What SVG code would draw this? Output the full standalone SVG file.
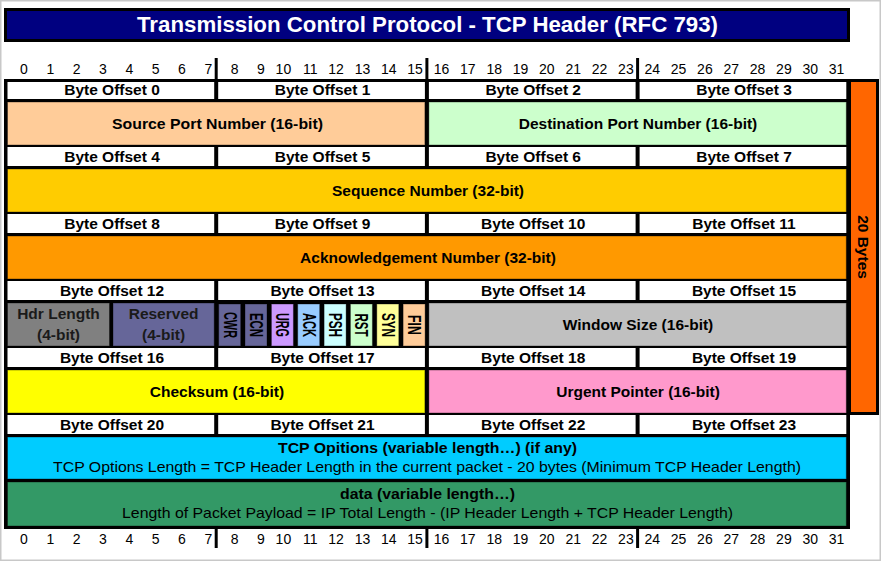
<svg xmlns="http://www.w3.org/2000/svg" width="881" height="561" viewBox="0 0 881 561">
<style>
text{font-family:"Liberation Sans",Arial,sans-serif;fill:#000}
.b{font-weight:bold;font-size:15.5px;text-anchor:middle}
.f{font-weight:bold;font-size:17.5px;text-anchor:middle}
.r{font-size:14.5px;text-anchor:middle}
.n{font-size:14px;text-anchor:end}
.w{fill:#fff}
.c{stroke:rgba(0,0,0,0.35);stroke-width:1}
.tick{stroke:#000;stroke-width:3}
</style>
<rect x="0.75" y="0.75" width="879.5" height="559.5" fill="#fff" stroke="#c8c8c8" stroke-width="1.5"/>
<g id="title">
<rect x="5.5" y="9.5" width="843" height="31" fill="#000080" stroke="#000" stroke-width="3"/>
<text x="427.5" y="31.5" text-anchor="middle" font-weight="bold" font-size="21.5" style="fill:#fff" textLength="581" lengthAdjust="spacingAndGlyphs">Transmission Control Protocol - TCP Header (RFC 793)</text>
</g>
<g id="bit-numbers-top">
<line class="tick" x1="216.2" y1="58" x2="216.2" y2="80"/><line class="tick" x1="426.9" y1="58" x2="426.9" y2="80"/><line class="tick" x1="637.6" y1="58" x2="637.6" y2="80"/>
<text class="n" x="27.8" y="74">0</text><text class="n" x="54.2" y="74">1</text><text class="n" x="80.5" y="74">2</text><text class="n" x="106.9" y="74">3</text><text class="n" x="133.2" y="74">4</text><text class="n" x="159.5" y="74">5</text><text class="n" x="185.9" y="74">6</text><text class="n" x="212.2" y="74">7</text>
<text class="n" x="238.6" y="74">8</text><text class="n" x="264.9" y="74">9</text><text class="n" x="291.2" y="74">10</text><text class="n" x="317.6" y="74">11</text><text class="n" x="343.9" y="74">12</text><text class="n" x="370.3" y="74">13</text><text class="n" x="396.6" y="74">14</text><text class="n" x="422.9" y="74">15</text>
<text class="n" x="449.3" y="74">16</text><text class="n" x="475.6" y="74">17</text><text class="n" x="502" y="74">18</text><text class="n" x="528.3" y="74">19</text><text class="n" x="554.6" y="74">20</text><text class="n" x="581" y="74">21</text><text class="n" x="607.3" y="74">22</text><text class="n" x="633.7" y="74">23</text>
<text class="n" x="660" y="74">24</text><text class="n" x="686.3" y="74">25</text><text class="n" x="712.7" y="74">26</text><text class="n" x="739" y="74">27</text><text class="n" x="765.4" y="74">28</text><text class="n" x="791.7" y="74">29</text><text class="n" x="818" y="74">30</text><text class="n" x="844.4" y="74">31</text>
</g>
<g id="bit-numbers-bottom">
<line class="tick" x1="216.2" y1="528" x2="216.2" y2="548"/><line class="tick" x1="426.9" y1="528" x2="426.9" y2="548"/><line class="tick" x1="637.6" y1="528" x2="637.6" y2="548"/>
<text class="n" x="27.8" y="544">0</text><text class="n" x="54.2" y="544">1</text><text class="n" x="80.5" y="544">2</text><text class="n" x="106.9" y="544">3</text><text class="n" x="133.2" y="544">4</text><text class="n" x="159.5" y="544">5</text><text class="n" x="185.9" y="544">6</text><text class="n" x="212.2" y="544">7</text>
<text class="n" x="238.6" y="544">8</text><text class="n" x="264.9" y="544">9</text><text class="n" x="291.2" y="544">10</text><text class="n" x="317.6" y="544">11</text><text class="n" x="343.9" y="544">12</text><text class="n" x="370.3" y="544">13</text><text class="n" x="396.6" y="544">14</text><text class="n" x="422.9" y="544">15</text>
<text class="n" x="449.3" y="544">16</text><text class="n" x="475.6" y="544">17</text><text class="n" x="502" y="544">18</text><text class="n" x="528.3" y="544">19</text><text class="n" x="554.6" y="544">20</text><text class="n" x="581" y="544">21</text><text class="n" x="607.3" y="544">22</text><text class="n" x="633.7" y="544">23</text>
<text class="n" x="660" y="544">24</text><text class="n" x="686.3" y="544">25</text><text class="n" x="712.7" y="544">26</text><text class="n" x="739" y="544">27</text><text class="n" x="765.4" y="544">28</text><text class="n" x="791.7" y="544">29</text><text class="n" x="818" y="544">30</text><text class="n" x="844.4" y="544">31</text>
</g>
<g id="table-frame">
<rect x="4" y="79" width="846" height="450" fill="#000"/>
</g>
<g id="byte-offsets">
<rect class="w" x="7.5" y="82" width="206.7" height="17"/><rect class="w" x="218.2" y="82" width="206.7" height="17"/><rect class="w" x="428.9" y="82" width="206.7" height="17"/><rect class="w" x="639.6" y="82" width="206.7" height="17"/>
<text class="b" x="112" y="95">Byte Offset 0</text><text class="b" x="322.5" y="95">Byte Offset 1</text><text class="b" x="533.2" y="95">Byte Offset 2</text><text class="b" x="744" y="95">Byte Offset 3</text>
<rect class="w" x="7.5" y="147" width="206.7" height="19"/><rect class="w" x="218.2" y="147" width="206.7" height="19"/><rect class="w" x="428.9" y="147" width="206.7" height="19"/><rect class="w" x="639.6" y="147" width="206.7" height="19"/>
<text class="b" x="112" y="162">Byte Offset 4</text><text class="b" x="322.5" y="162">Byte Offset 5</text><text class="b" x="533.2" y="162">Byte Offset 6</text><text class="b" x="744" y="162">Byte Offset 7</text>
<rect class="w" x="7.5" y="214" width="206.7" height="19"/><rect class="w" x="218.2" y="214" width="206.7" height="19"/><rect class="w" x="428.9" y="214" width="206.7" height="19"/><rect class="w" x="639.6" y="214" width="206.7" height="19"/>
<text class="b" x="112" y="229">Byte Offset 8</text><text class="b" x="322.5" y="229">Byte Offset 9</text><text class="b" x="533.2" y="229">Byte Offset 10</text><text class="b" x="744" y="229">Byte Offset 11</text>
<rect class="w" x="7.5" y="281" width="206.7" height="19"/><rect class="w" x="218.2" y="281" width="206.7" height="19"/><rect class="w" x="428.9" y="281" width="206.7" height="19"/><rect class="w" x="639.6" y="281" width="206.7" height="19"/>
<text class="b" x="112" y="296">Byte Offset 12</text><text class="b" x="322.5" y="296">Byte Offset 13</text><text class="b" x="533.2" y="296">Byte Offset 14</text><text class="b" x="744" y="296">Byte Offset 15</text>
<rect class="w" x="7.5" y="348" width="206.7" height="19"/><rect class="w" x="218.2" y="348" width="206.7" height="19"/><rect class="w" x="428.9" y="348" width="206.7" height="19"/><rect class="w" x="639.6" y="348" width="206.7" height="19"/>
<text class="b" x="112" y="363">Byte Offset 16</text><text class="b" x="322.5" y="363">Byte Offset 17</text><text class="b" x="533.2" y="363">Byte Offset 18</text><text class="b" x="744" y="363">Byte Offset 19</text>
<rect class="w" x="7.5" y="415" width="206.7" height="19"/><rect class="w" x="218.2" y="415" width="206.7" height="19"/><rect class="w" x="428.9" y="415" width="206.7" height="19"/><rect class="w" x="639.6" y="415" width="206.7" height="19"/>
<text class="b" x="112" y="430">Byte Offset 20</text><text class="b" x="322.5" y="430">Byte Offset 21</text><text class="b" x="533.2" y="430">Byte Offset 22</text><text class="b" x="744" y="430">Byte Offset 23</text>
</g>
<g id="source-port"><rect class="c" x="7.5" y="102" width="417.4" height="43" fill="#ffcc99"/><text class="b" x="217.5" y="129" textLength="211" lengthAdjust="spacingAndGlyphs">Source Port Number (16-bit)</text></g>
<g id="destination-port"><rect class="c" x="428.9" y="102" width="417.4" height="43" fill="#ccffcc"/><text class="b" x="638" y="129">Destination Port Number (16-bit)</text></g>
<g id="sequence-number"><rect class="c" x="7.5" y="169" width="838.8" height="43" fill="#ffcc00"/><text class="b" x="428" y="196">Sequence Number (32-bit)</text></g>
<g id="ack-number"><rect class="c" x="7.5" y="236" width="838.8" height="43" fill="#ff9900"/><text class="b" x="428" y="263">Acknowledgement Number (32-bit)</text></g>
<g id="hdr-length"><rect class="c" x="7.5" y="303" width="102" height="43" fill="#808080"/><text class="b" x="58.5" y="319" style="fill:#1a1a1a">Hdr Length</text><text class="b" x="58.5" y="340" style="fill:#1a1a1a">(4-bit)</text></g>
<g id="reserved"><rect class="c" x="113" y="303" width="101.2" height="43" fill="#666699"/><text class="b" x="163.6" y="319" style="fill:#1a1a1a">Reserved</text><text class="b" x="163.6" y="340" style="fill:#1a1a1a">(4-bit)</text></g>
<g id="flag-cwr"><rect class="c" x="218.7" y="304" width="22" height="42" fill="#666699"/><text class="f" transform="translate(229.7,325) rotate(90)" y="6" textLength="26" lengthAdjust="spacingAndGlyphs">CWR</text></g>
<g id="flag-ecn"><rect class="c" x="245" y="304" width="22" height="42" fill="#666699"/><text class="f" transform="translate(256,325) rotate(90)" y="6" textLength="24" lengthAdjust="spacingAndGlyphs">ECN</text></g>
<g id="flag-urg"><rect class="c" x="271.4" y="304" width="22" height="42" fill="#cc99ff"/><text class="f" transform="translate(282.4,325) rotate(90)" y="6" textLength="24" lengthAdjust="spacingAndGlyphs">URG</text></g>
<g id="flag-ack"><rect class="c" x="297.7" y="304" width="22" height="42" fill="#99ccff"/><text class="f" transform="translate(308.7,325) rotate(90)" y="6" textLength="24" lengthAdjust="spacingAndGlyphs">ACK</text></g>
<g id="flag-psh"><rect class="c" x="324.1" y="304" width="22" height="42" fill="#ccffff"/><text class="f" transform="translate(335.1,325) rotate(90)" y="6" textLength="24" lengthAdjust="spacingAndGlyphs">PSH</text></g>
<g id="flag-rst"><rect class="c" x="350.4" y="304" width="22" height="42" fill="#ccffcc"/><text class="f" transform="translate(361.4,325) rotate(90)" y="6" textLength="23" lengthAdjust="spacingAndGlyphs">RST</text></g>
<g id="flag-syn"><rect class="c" x="376.8" y="304" width="22" height="42" fill="#ffff99"/><text class="f" transform="translate(387.8,325) rotate(90)" y="6" textLength="24" lengthAdjust="spacingAndGlyphs">SYN</text></g>
<g id="flag-fin"><rect class="c" x="403.1" y="304" width="22" height="42" fill="#ffcc99"/><text class="f" transform="translate(414.1,325) rotate(90)" y="6" textLength="20" lengthAdjust="spacingAndGlyphs">FIN</text></g>
<g id="window-size"><rect class="c" x="428.9" y="303" width="417.4" height="43" fill="#c0c0c0"/><text class="b" x="638" y="330">Window Size (16-bit)</text></g>
<g id="checksum"><rect class="c" x="7.5" y="370" width="417.4" height="43" fill="#ffff00"/><text class="b" x="217" y="397">Checksum (16-bit)</text></g>
<g id="urgent-pointer"><rect class="c" x="428.9" y="370" width="417.4" height="43" fill="#ff99cc"/><text class="b" x="638" y="397">Urgent Pointer (16-bit)</text></g>
<g id="tcp-options"><rect class="c" x="7.5" y="437" width="838.8" height="42" fill="#00ccff"/><text class="b" x="427.5" y="453" textLength="299" lengthAdjust="spacingAndGlyphs">TCP Opitions (variable length…) (if any)</text><text class="r" x="427" y="472" textLength="748" lengthAdjust="spacingAndGlyphs">TCP Options Length = TCP Header Length in the current packet - 20 bytes (Minimum TCP Header Length)</text></g>
<g id="data"><rect class="c" x="7.5" y="482" width="838.8" height="44" fill="#339966"/><text class="b" x="427.5" y="499" textLength="175" lengthAdjust="spacingAndGlyphs">data (variable length…)</text><text class="r" x="427.5" y="518" textLength="611" lengthAdjust="spacingAndGlyphs">Length of Packet Payload = IP Total Length - (IP Header Length + TCP Header Length)</text></g>
<g id="twenty-bytes"><rect x="847" y="79" width="32" height="336" fill="#000"/><rect x="851" y="82" width="25" height="330" fill="#ff6600"/><text class="b" transform="translate(863.5,247) rotate(90)" y="5.5">20 Bytes</text></g>
<g id="connectors"/>
</svg>
